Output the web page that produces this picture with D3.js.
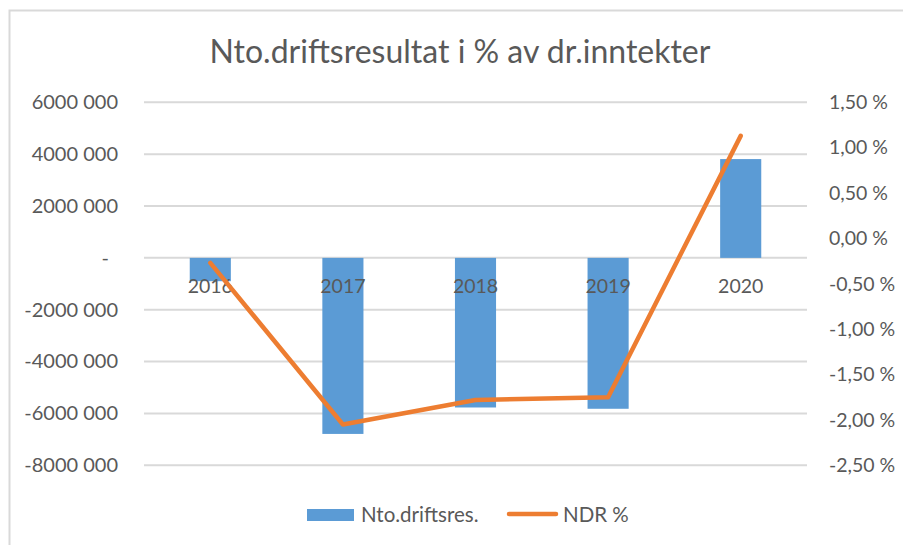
<!DOCTYPE html>
<html>
<head>
<meta charset="utf-8">
<script src="https://cdn.jsdelivr.net/npm/d3@7"></script>
<style>
  body { margin: 0; background: #fff; }
  text { font-family: Lato, "Open Sans", sans-serif; fill: #595959; }
</style>
</head>
<body>
<div id="container"></div>
<script>
// values
const years = ['2016', '2017', '2018', '2019', '2020']
const ntoDriftsres = [-900000, -6790000, -5770000, -5820000, 3810000]
const ndrPct = [-0.0027, -0.0205, -0.0178, -0.0175, 0.0113]

const leftTicks = [-8000000, -6000000, -4000000, -2000000, 0, 2000000, 4000000, 6000000]
const leftTickLabels = ['-8000 000', '-6000 000', '-4000 000', '-2000 000', '-', '2000 000', '4000 000', '6000 000']
const rightTicks = [-0.025, -0.02, -0.015, -0.01, -0.005, 0, 0.005, 0.01, 0.015]
const rightTickLabels = ['-2,50 %', '-2,00 %', '-1,50 %', '-1,00 %', '-0,50 %', '0,00 %', '0,50 %', '1,00 %', '1,50 %']

const width = 903
const height = 545
const plotLeft = 144, plotRight = 807, plotTop = 102.3, plotBottom = 465.3

const blue = '#5B9BD5'
const orange = '#ED7D31'

const svg = d3.select('#container').append('svg')
    .attr('width', width)
    .attr('height', height)

svg.append('rect')
    .attr('width', width).attr('height', height)
    .attr('fill', '#fff')

// chart border
svg.append('rect')
    .attr('x', 9.5).attr('y', 10.5)
    .attr('width', 905).attr('height', 545)
    .attr('fill', 'none')
    .attr('stroke', '#d9d9d9')
    .attr('stroke-width', 2)

svg.append('text')
    .attr('x', 460).attr('y', 63)
    .attr('text-anchor', 'middle')
    .style('font-size', '32px')
    .text('Nto.driftsresultat i % av dr.inntekter')

const xScale = d3.scaleBand()
    .domain(years)
    .range([plotLeft, plotRight])
    .paddingInner(0.69)
    .paddingOuter(0.345)

const yScale = d3.scaleLinear()
    .domain([-8000000, 6000000])
    .range([plotBottom, plotTop])

const y2Scale = d3.scaleLinear()
    .domain([-0.025, 0.015])
    .range([plotBottom, plotTop])

// gridlines
svg.append('g')
    .selectAll('line')
    .data(leftTicks)
    .enter()
    .append('line')
    .attr('x1', plotLeft).attr('x2', plotRight)
    .attr('y1', d => yScale(d)).attr('y2', d => yScale(d))
    .attr('stroke', '#d9d9d9')
    .attr('stroke-width', 2)

// left axis
const yAxis = d3.axisLeft(yScale)
    .tickValues(leftTicks)
    .tickSize(0)
    .tickPadding(26)
    .tickFormat((d, i) => leftTickLabels[i])

svg.append('g')
    .attr('id', 'y-axis')
    .attr('transform', `translate(${plotLeft}, 0)`)
    .call(yAxis)
    .call(g => g.select('.domain').remove())
    .call(g => g.selectAll('text')
        .style('font-size', '20px')
        .attr('font-family', null)
        .attr('fill', null)
        .attr('dx', d => d === 0 ? -9 : 0))

// right axis
const y2Axis = d3.axisRight(y2Scale)
    .tickValues(rightTicks)
    .tickSize(0)
    .tickPadding(22)
    .tickFormat((d, i) => rightTickLabels[i])

svg.append('g')
    .attr('id', 'y2-axis')
    .attr('transform', `translate(${plotRight}, 0)`)
    .call(y2Axis)
    .call(g => g.select('.domain').remove())
    .call(g => g.selectAll('text')
        .style('font-size', '19.5px')
        .attr('font-family', null)
        .attr('fill', null))

// bars
svg.selectAll('rect.bar')
    .data(ntoDriftsres)
    .enter()
    .append('rect')
    .attr('class', 'bar')
    .attr('x', (d, i) => xScale(years[i]))
    .attr('y', d => yScale(Math.max(0, d)))
    .attr('width', xScale.bandwidth())
    .attr('height', d => Math.abs(yScale(d) - yScale(0)))
    .attr('fill', blue)

// category labels next to the zero line
const xAxis = d3.axisBottom(xScale)
    .tickSize(0)

svg.append('g')
    .attr('id', 'x-axis')
    .attr('transform', `translate(0, ${yScale(0) + 29})`)
    .call(xAxis)
    .call(g => g.select('.domain').remove())
    .call(g => g.selectAll('text')
        .style('font-size', '19.5px')
        .attr('font-family', null)
        .attr('fill', null)
        .attr('y', 0)
        .attr('dy', '0.32em'))

// line
const line = d3.line()
    .x((d, i) => xScale(years[i]) + xScale.bandwidth() / 2)
    .y(d => y2Scale(d))

svg.append('path')
    .datum(ndrPct)
    .attr('d', line)
    .attr('fill', 'none')
    .attr('stroke', orange)
    .attr('stroke-width', 4.5)
    .attr('stroke-linejoin', 'round')
    .attr('stroke-linecap', 'round')

// legend
const legend = svg.append('g').attr('id', 'legend')
legend.append('rect')
    .attr('x', 307).attr('y', 509)
    .attr('width', 47).attr('height', 12)
    .attr('fill', blue)
legend.append('text')
    .attr('x', 361).attr('y', 515)
    .attr('dy', '0.35em')
    .style('font-size', '20.5px')
    .text('Nto.driftsres.')
legend.append('line')
    .attr('x1', 509).attr('x2', 556)
    .attr('y1', 514).attr('y2', 514)
    .attr('stroke', orange)
    .attr('stroke-width', 4.5)
    .attr('stroke-linecap', 'round')
legend.append('text')
    .attr('x', 563).attr('y', 515)
    .attr('dy', '0.35em')
    .style('font-size', '20.5px')
    .text('NDR %')
</script>
</body>
</html>
